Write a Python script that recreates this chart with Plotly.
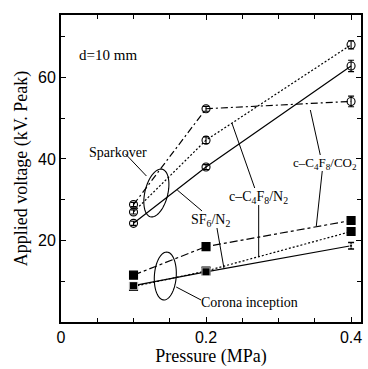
import numpy as np
import plotly.graph_objects as go

# ---------------- data ----------------
pressure = [0.1, 0.2, 0.4]

spark_co2 = [28.8, 52.3, 54.1]
spark_co2_err = [0.5, 0.6, 1.3]
spark_n2 = [27.0, 44.6, 68.0]
spark_n2_err = [0.5, 0.8, 1.0]
spark_sf6 = [24.2, 38.0, 62.8]
spark_sf6_err = [0.5, 0.6, 1.4]

corona_co2 = [11.5, 18.5, 24.9]
corona_n2 = [8.7, 12.5, 22.2]
corona_sf6 = [8.9, 12.3, 18.7]
corona_sf6_err = [0.0, 0.0, 0.8]

x_tickvals = [0, 0.2, 0.4]
x_ticktext = ["0", "0.2", "0.4"]
y_tickvals = [20, 40, 60]
y_ticktext = ["20", "40", "60"]

# ---------------- layout geometry ----------------
W, H = 368, 369
ML, MR, MT, MB = 61, 5, 15, 47
XMAX, YMAX = 0.4137, 75.3
PW, PH = W - ML - MR, H - MT - MB


def X(px):
    return (px - ML) / PW * XMAX


def Y(py):
    return (MT + PH - py) / PH * YMAX


SERIF = "Liberation Serif"
SANS = "Liberation Sans"

fig = go.Figure()


def add(y, symbol, size, err=None, dashstyle="solid"):
    fig.add_trace(go.Scatter(
        x=pressure, y=y, mode="lines+markers",
        line=dict(color="black", width=1.2, dash=dashstyle),
        marker=dict(symbol=symbol, size=size, color="black",
                    line=dict(color="black", width=1.1)),
        error_y=(dict(type="data", array=err, visible=True, color="black",
                      thickness=1.1, width=3) if err is not None else None),
        showlegend=False, cliponaxis=False,
    ))


add(spark_co2, "circle-open", 8, spark_co2_err, "7px,3px,2px,3px")
add(spark_n2, "circle-open", 8, spark_n2_err, "2px,2px")
add(spark_sf6, "circle-open", 8, spark_sf6_err)
add(corona_co2, "square", 8, None, "8px,3px,3px,3px")
add(corona_n2, "square", 8, None, "2px,2px")
fig.add_trace(go.Scatter(
    x=pressure, y=corona_sf6, mode="lines+markers",
    line=dict(color="black", width=1.2),
    marker=dict(symbol="square", size=[8, 8, 3], color="black"),
    error_y=dict(type="data", array=corona_sf6_err, visible=True, color="black",
                 thickness=1.5, width=3),
    showlegend=False, cliponaxis=False,
))

shapes = []


def ellipse(cx, cy, a, b, tilt_deg):
    t = np.linspace(0, 2 * np.pi, 60)
    th = np.deg2rad(tilt_deg)
    xs = cx + a * np.cos(t) * np.cos(th) + b * np.sin(t) * np.sin(th)
    ys = cy - a * np.cos(t) * np.sin(th) + b * np.sin(t) * np.cos(th)
    pts = [f"{X(px):.5f},{Y(py):.4f}" for px, py in zip(xs, ys)]
    return "M " + " L ".join(pts) + " Z"


for cx, cy, a, b, tilt in [(157, 193, 11.5, 24.5, -14), (166, 276, 11, 24, -4)]:
    shapes.append(dict(type="path", path=ellipse(cx, cy, a, b, tilt),
                       xref="x", yref="y", line=dict(color="black", width=1.1)))

leaders = [
    ((126, 154), (147, 176)),
    ((203, 211), (178, 190)),
    ((218, 228), (225, 268)),
    ((256, 188), (233, 123)),
    ((260, 205), (260, 256)),
    ((322, 155), (312, 110)),
    ((324, 171), (318, 226)),
    ((202, 300), (177, 287)),
]
for (x0, y0), (x1, y1) in leaders:
    shapes.append(dict(type="line", xref="x", yref="y",
                       x0=X(x0), y0=Y(y0), x1=X(x1), y1=Y(y1),
                       line=dict(color="black", width=1)))

labels = [
    ("d=10 mm", 108, 55, 15),
    ("Sparkover", 118, 152, 14),
    ("SF<sub>6</sub>/N<sub>2</sub>", 211, 220, 14),
    ("c\u2013C<sub>4</sub>F<sub>8</sub>/N<sub>2</sub>", 260, 197, 14),
    ("c\u2013C<sub>4</sub>F<sub>8</sub>/CO<sub>2</sub>", 327, 163, 13),
    ("Corona inception", 251, 302, 14),
]
annotations = [dict(text=t, x=X(px), y=Y(py), xref="x", yref="y",
                    showarrow=False, font=dict(family=SERIF, size=s, color="black"),
                    xanchor="center", yanchor="middle")
               for t, px, py, s in labels]

axis_common = dict(
    showgrid=False, zeroline=False, showline=True, linecolor="black", linewidth=2,
    mirror="ticks", ticks="inside", ticklen=5, tickwidth=1.2, tickcolor="black",
    tickfont=dict(family=SANS, size=16, color="black"),
)

fig.update_layout(
    width=W, height=H,
    margin=dict(l=ML, r=MR, t=MT, b=MB),
    paper_bgcolor="white", plot_bgcolor="white",
    font=dict(family=SERIF, color="black"),
    xaxis=dict(range=[0, XMAX], tickvals=x_tickvals, ticktext=x_ticktext,
               minor=dict(dtick=0.05, ticks="inside", ticklen=4, tickcolor="black", tickwidth=1),
               title=dict(text="Pressure (MPa)", font=dict(family=SERIF, size=18, color="black"),
                          standoff=4),
               **axis_common),
    yaxis=dict(range=[0, YMAX], tickvals=y_tickvals, ticktext=y_ticktext,
               minor=dict(dtick=10, ticks="inside", ticklen=4, tickcolor="black", tickwidth=1),
               title=dict(text="Applied voltage (kV. Peak)",
                          font=dict(family=SERIF, size=18, color="black"), standoff=6),
               **axis_common),
    shapes=shapes,
    annotations=annotations,
)

fig.write_html("out.html")
